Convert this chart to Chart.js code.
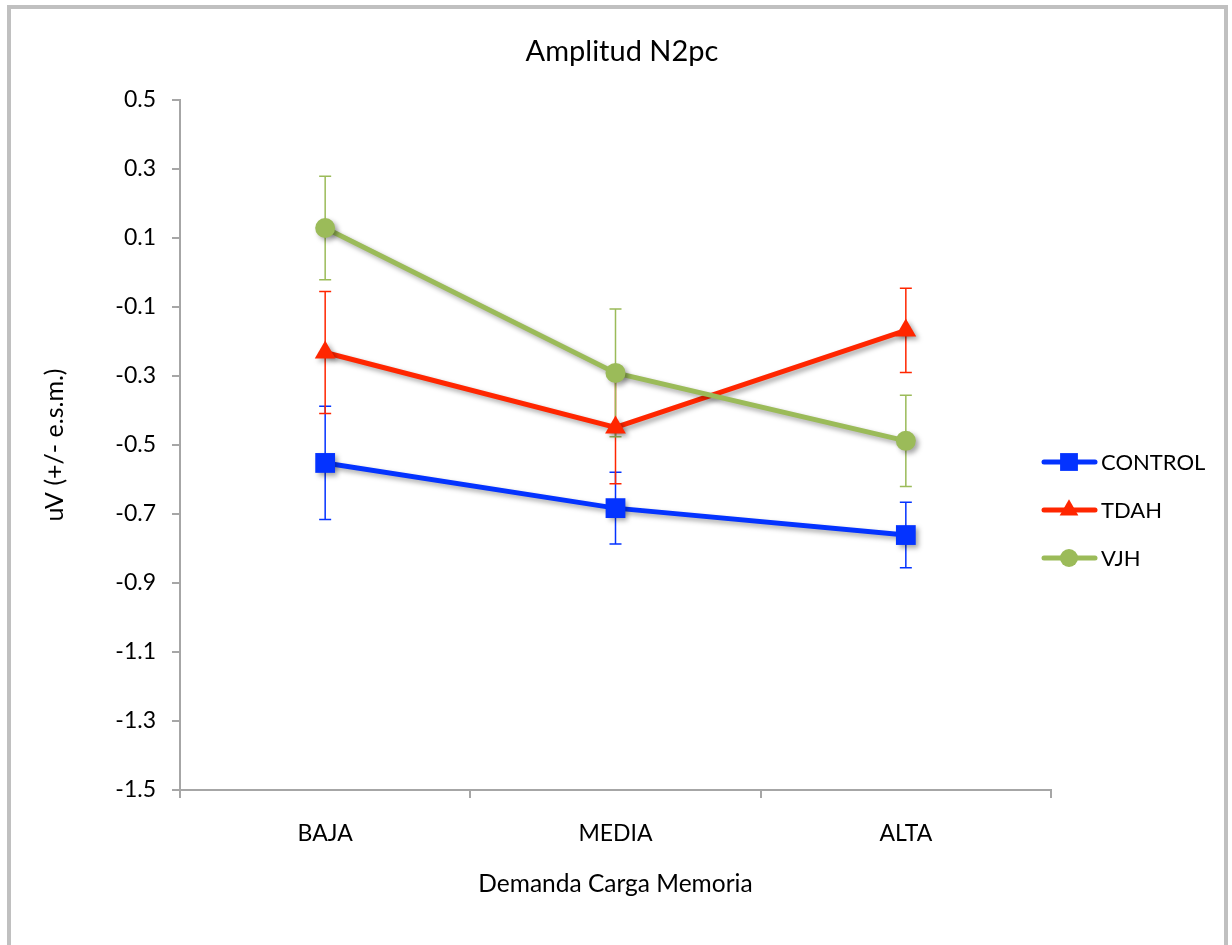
<!DOCTYPE html>
<html>
<head>
<meta charset="utf-8">
<title>Amplitud N2pc</title>
<script src="https://cdn.jsdelivr.net/npm/chart.js@4.4.1/dist/chart.umd.min.js"></script>
<style>
  body { margin: 0; background: #fff; overflow: hidden; }
  #wrap { position: relative; width: 1232px; height: 945px; }
  #frame { position: absolute; left: 7px; top: 5px; width: 1213px; height: 960px; border: 4px solid #c0c0c0; pointer-events: none; }
</style>
</head>
<body>
<div id="wrap">
  <canvas id="n2pcChart" width="1232" height="945"></canvas>
  <div id="frame"></div>
</div>
<script>
// Data
const categories = ['BAJA', 'MEDIA', 'ALTA'];
const controlVals = [-0.552, -0.683, -0.761];
const controlErr = [0.164, 0.104, 0.095];
const tdahVals = [-0.232, -0.449, -0.168];
const tdahErr = [0.177, 0.163, 0.122];
const vjhVals = [0.129, -0.291, -0.488];
const vjhErr = [0.150, 0.185, 0.132];
const yTicks = [0.5, 0.3, 0.1, -0.1, -0.3, -0.5, -0.7, -0.9, -1.1, -1.3, -1.5];
const chartTitle = 'Amplitud N2pc';

const FONT = 'Lato, "Open Sans", sans-serif';
const axisGrey = '#a6a6a6';

// Title centred on the whole frame (not only the plot area)
const frameTitle = {
  id: 'frameTitle',
  afterDraw(chart) {
    const ctx = chart.ctx;
    ctx.save();
    ctx.fillStyle = '#000';
    ctx.font = '29px ' + FONT;
    ctx.textAlign = 'center';
    ctx.textBaseline = 'middle';
    ctx.fillText(chartTitle, 622, 52);
    ctx.restore();
  }
};

// Error bars, drawn under the lines
const errorBars = {
  id: 'errorBars',
  beforeDatasetsDraw(chart) {
    const ctx = chart.ctx;
    const y = chart.scales.y;
    chart.data.datasets.forEach((ds, i) => {
      const meta = chart.getDatasetMeta(i);
      ctx.save();
      ctx.strokeStyle = ds.borderColor;
      ctx.lineWidth = 1.5;
      meta.data.forEach((pt, j) => {
        const top = y.getPixelForValue(ds.data[j] + ds.errors[j]);
        const bot = y.getPixelForValue(ds.data[j] - ds.errors[j]);
        ctx.beginPath();
        ctx.moveTo(pt.x, top); ctx.lineTo(pt.x, bot);
        ctx.moveTo(pt.x - 6, top); ctx.lineTo(pt.x + 6, top);
        ctx.moveTo(pt.x - 6, bot); ctx.lineTo(pt.x + 6, bot);
        ctx.stroke();
      });
      ctx.restore();
    });
    // drop shadow for lines and markers
    ctx.save();
    ctx.shadowColor = 'rgba(0,0,0,0.35)';
    ctx.shadowBlur = 5;
    ctx.shadowOffsetX = 3;
    ctx.shadowOffsetY = 3;
  },
  afterDatasetsDraw(chart) {
    chart.ctx.restore();
  }
};

// Legend on the right: line with marker + label
const sideLegend = {
  id: 'sideLegend',
  afterDraw(chart) {
    const ctx = chart.ctx;
    const x0 = chart.chartArea.right - 9;
    let yy = 462;
    chart.data.datasets.forEach(ds => {
      ctx.save();
      ctx.strokeStyle = ds.borderColor;
      ctx.fillStyle = ds.pointBackgroundColor;
      ctx.lineWidth = 5;
      ctx.lineCap = 'round';
      ctx.beginPath();
      ctx.moveTo(x0 + 2, yy);
      ctx.lineTo(x0 + 53, yy);
      ctx.stroke();
      Chart.helpers.drawPoint(ctx, {
        pointStyle: ds.pointStyle,
        radius: ds.pointRadius * 0.9,
        rotation: 0,
        borderWidth: 0
      }, x0 + 27, yy);
      ctx.fillStyle = '#000';
      ctx.font = '22px ' + FONT;
      ctx.textBaseline = 'middle';
      ctx.fillText(ds.label, x0 + 59, yy + 1);
      ctx.restore();
      yy += 48;
    });
  }
};

new Chart(document.getElementById('n2pcChart'), {
  type: 'line',
  data: {
    labels: categories,
    datasets: [
      {
        label: 'CONTROL',
        data: controlVals,
        errors: controlErr,
        borderColor: '#0433ff',
        backgroundColor: '#0433ff',
        pointBackgroundColor: '#0433ff',
        pointBorderColor: '#0433ff',
        pointStyle: 'rect',
        pointRadius: 14,
        borderWidth: 5,
        pointBorderWidth: 0,
        order: 2
      },
      {
        label: 'TDAH',
        data: tdahVals,
        errors: tdahErr,
        borderColor: '#ff2600',
        backgroundColor: '#ff2600',
        pointBackgroundColor: '#ff2600',
        pointBorderColor: '#ff2600',
        pointStyle: 'triangle',
        pointRadius: 12,
        borderWidth: 5,
        pointBorderWidth: 0,
        order: 1
      },
      {
        label: 'VJH',
        data: vjhVals,
        errors: vjhErr,
        borderColor: '#9bbb59',
        backgroundColor: '#9bbb59',
        pointBackgroundColor: '#9bbb59',
        pointBorderColor: '#9bbb59',
        pointStyle: 'circle',
        pointRadius: 10,
        borderWidth: 5,
        pointBorderWidth: 0,
        order: 0
      }
    ]
  },
  options: {
    responsive: false,
    animation: false,
    devicePixelRatio: 1,
    layout: { padding: { left: 0, right: 181, top: 100, bottom: 0 } },
    scales: {
      x: {
        type: 'category',
        offset: true,
        grid: { offset: true, drawOnChartArea: false, drawTicks: true, tickLength: 8, tickColor: axisGrey, lineWidth: 2 },
        border: { color: axisGrey, width: 2 },
        ticks: { color: '#000', font: { family: FONT, size: 23 }, padding: 22, maxRotation: 0 },
        title: { display: true, text: 'Demanda Carga Memoria', color: '#000', font: { family: FONT, size: 24.5 }, padding: { top: 0, bottom: 46 } },
        afterFit(scale) { scale.height = 155; }
      },
      y: {
        min: -1.5,
        max: 0.5,
        afterBuildTicks(scale) { scale.ticks = yTicks.map(v => ({ value: v })); },
        grid: { drawOnChartArea: false, drawTicks: true, tickLength: 8, tickColor: axisGrey, lineWidth: 2 },
        border: { color: axisGrey, width: 2 },
        ticks: {
          color: '#000',
          font: { family: FONT, size: 23 },
          padding: 16,
          callback: function(value) { return value.toFixed(1); }
        },
        title: { display: true, text: 'uV (+/- e.s.m.)', color: '#000', font: { family: FONT, size: 25 }, padding: { top: 40, bottom: 0 } },
        afterFit(scale) { scale.width = 180; }
      }
    },
    plugins: {
      legend: { display: false },
      tooltip: { enabled: false },
      title: { display: false }
    }
  },
  plugins: [errorBars, sideLegend, frameTitle]
});
</script>
</body>
</html>
